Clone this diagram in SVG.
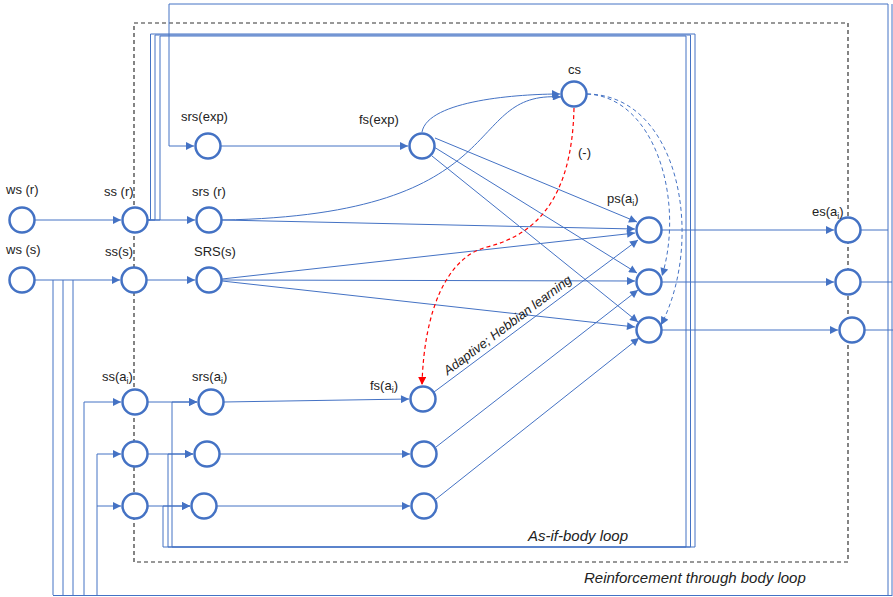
<svg xmlns="http://www.w3.org/2000/svg" width="893" height="597" viewBox="0 0 893 597">
<style>
.n{fill:#fff;stroke:#4472C4;stroke-width:2.5}
.c{fill:none;stroke:#4472C4;stroke-width:1}
.l{fill:none;stroke:#4472C4;stroke-width:1}
.d{fill:none;stroke:#4472C4;stroke-width:1;stroke-dasharray:4 3}
.r{fill:none;stroke:#FF0000;stroke-width:1.2;stroke-dasharray:4 3}
.box{fill:none;stroke:#333;stroke-width:1.2;stroke-dasharray:4 3}
text{font-family:"Liberation Sans",Arial,sans-serif;font-size:13px;fill:#222}
.it{font-style:italic;font-size:15px}
</style>
<defs>
<marker id="a" viewBox="0 0 10 10" refX="10" refY="5" markerWidth="9" markerHeight="8" markerUnits="userSpaceOnUse" orient="auto"><path d="M0,0L10,5L0,10z" fill="#4472C4"/></marker>
<marker id="ar" viewBox="0 0 10 10" refX="10" refY="5" markerWidth="9" markerHeight="8" markerUnits="userSpaceOnUse" orient="auto"><path d="M0,0L10,5L0,10z" fill="#FF0000"/></marker>
</defs>
<rect width="893" height="597" fill="#fff"/>
<g id="frames">
<path class="box" d="M134,23H848V562H134Z"/>
</g>
<g id="connectors">
<!-- body loop -->
<path class="l" d="M861,230H888M861,282H892M865,330H893"/>
<path class="l" d="M888,4V595M892,4V596"/>
<path class="c" d="M888,4H169V146H194" marker-end="url(#a)"/>
<path class="l" stroke-width="1.6" d="M892,595.5H53"/>
<path class="l" d="M53,595V280M63,595V280M73,595V280"/>
<path class="c" d="M84,595V402H121" marker-end="url(#a)"/>
<path class="c" d="M97,595V454H121" marker-end="url(#a)"/>
<path class="c" d="M97,506H121" marker-end="url(#a)"/>
<!-- as-if body loop -->
<path class="c" d="M148,220H150.5V34H695V547H163V506H190" marker-end="url(#a)"/>
<path class="c" d="M148,220H155V35H690.5V547H168V454H193" marker-end="url(#a)"/>
<path class="c" d="M148,220H160V36H686V547H172V402H197" marker-end="url(#a)"/>
<!-- straight -->
<path class="c" d="M35,220H121" marker-end="url(#a)"/>
<path class="c" d="M35,280H120" marker-end="url(#a)"/>
<path class="c" d="M148,220H195" marker-end="url(#a)"/>
<path class="c" d="M147,280H195" marker-end="url(#a)"/>
<path class="c" d="M221,146H408" marker-end="url(#a)"/>
<path class="c" d="M148,402H197" marker-end="url(#a)"/>
<path class="c" d="M148,454H193" marker-end="url(#a)"/>
<path class="c" d="M148,506H190" marker-end="url(#a)"/>
<path class="c" d="M224,402L409,399" marker-end="url(#a)"/>
<path class="c" d="M220,454H410" marker-end="url(#a)"/>
<path class="c" d="M217,506H410" marker-end="url(#a)"/>
<!-- to cs -->
<path class="c" d="M422,132C428,100 520,94 560,94" marker-end="url(#a)"/>
<path class="c" d="M222,220C520,215 460,90 561,97" marker-end="url(#a)"/>
<!-- to ps -->
<path class="c" d="M435,138L637,222" marker-end="url(#a)"/>
<path class="c" d="M222,220L635,229" marker-end="url(#a)"/>
<path class="c" d="M222,279L635,233" marker-end="url(#a)"/>
<path class="c" d="M434,392L638,240" marker-end="url(#a)"/>
<path class="c" d="M434,147L637,273" marker-end="url(#a)"/>
<path class="c" d="M222,280L635,281" marker-end="url(#a)"/>
<path class="c" d="M436,447L638,290" marker-end="url(#a)"/>
<path class="c" d="M432,156L638,322" marker-end="url(#a)"/>
<path class="c" d="M222,281L635,327" marker-end="url(#a)"/>
<path class="c" d="M436,499L639,338" marker-end="url(#a)"/>
<!-- dashed from cs -->
<path class="d" d="M587,94C655,97 685,200 662,276" marker-end="url(#a)"/>
<path class="d" d="M587,94C680,95 705,240 661,325" marker-end="url(#a)"/>
<path class="r" d="M574,108C572,200 535,235 487,247C447,257 424,310 422,385" marker-end="url(#ar)"/>
<!-- ps to es -->
<path class="c" d="M662,230H834" marker-end="url(#a)"/>
<path class="c" d="M662,282H834" marker-end="url(#a)"/>
<path class="c" d="M662,330H838" marker-end="url(#a)"/>
</g>
<g id="ws_r"><circle class="n" cx="22" cy="220" r="12.5"/><text x="6" y="194">ws (r)</text></g>
<g id="ws_s"><circle class="n" cx="22" cy="280" r="12.5"/><text x="6" y="254">ws (s)</text></g>
<g id="ss_r"><circle class="n" cx="135" cy="220" r="12.5"/><text x="104" y="196">ss (r)</text></g>
<g id="ss_s"><circle class="n" cx="134" cy="280" r="12.5"/><text x="105" y="256">ss(s)</text></g>
<g id="srs_exp"><circle class="n" cx="208" cy="146" r="12.5"/><text x="181" y="121">srs(exp)</text></g>
<g id="srs_r"><circle class="n" cx="209" cy="220" r="12.5"/><text x="192" y="196">srs (r)</text></g>
<g id="srs_s"><circle class="n" cx="209" cy="280" r="12.5"/><text x="194" y="256">SRS(s)</text></g>
<g id="fs_exp"><circle class="n" cx="422" cy="146" r="12.5"/><text x="359" y="124">fs(exp)</text></g>
<g id="cs"><circle class="n" cx="574" cy="94" r="12.5"/><text x="568" y="74">cs</text></g>
<g id="ps1"><circle class="n" cx="649" cy="230" r="12.5"/><text x="607" y="203">ps(a<tspan dy="3" font-size="9">i</tspan><tspan dy="-3">)</tspan></text></g>
<g id="ps2"><circle class="n" cx="649" cy="282" r="12.5"/></g>
<g id="ps3"><circle class="n" cx="649" cy="330" r="12.5"/></g>
<g id="es1"><circle class="n" cx="848" cy="230" r="12.5"/><text x="812" y="216">es(a<tspan dy="3" font-size="9">i</tspan><tspan dy="-3">)</tspan></text></g>
<g id="es2"><circle class="n" cx="848" cy="282" r="12.5"/></g>
<g id="es3"><circle class="n" cx="852" cy="330" r="12.5"/></g>
<g id="ss_a1"><circle class="n" cx="135" cy="402" r="12.5"/><text x="102" y="381">ss(a<tspan dy="3" font-size="9">i</tspan><tspan dy="-3">)</tspan></text></g>
<g id="ss_a2"><circle class="n" cx="135" cy="454" r="12.5"/></g>
<g id="ss_a3"><circle class="n" cx="135" cy="506" r="12.5"/></g>
<g id="srs_a1"><circle class="n" cx="211" cy="402" r="12.5"/><text x="192" y="381">srs(a<tspan dy="3" font-size="9">i</tspan><tspan dy="-3">)</tspan></text></g>
<g id="srs_a2"><circle class="n" cx="207" cy="454" r="12.5"/></g>
<g id="srs_a3"><circle class="n" cx="204" cy="506" r="12.5"/></g>
<g id="fs_a1"><circle class="n" cx="423" cy="399" r="12.5"/><text x="370" y="390">fs(a<tspan dy="3" font-size="9">i</tspan><tspan dy="-3">)</tspan></text></g>
<g id="fs_a2"><circle class="n" cx="424" cy="454" r="12.5"/></g>
<g id="fs_a3"><circle class="n" cx="424" cy="506" r="12.5"/></g>
<g id="labels">
<text x="578" y="157">(-)</text>
<text transform="translate(512,331) rotate(-37)" x="0" y="-3" text-anchor="middle" font-style="italic" font-size="12">Adaptive; Hebbian learning</text>
<text class="it" x="528" y="541">As-if-body loop</text>
<text class="it" x="584" y="583">Reinforcement through body loop</text>
</g>
</svg>
